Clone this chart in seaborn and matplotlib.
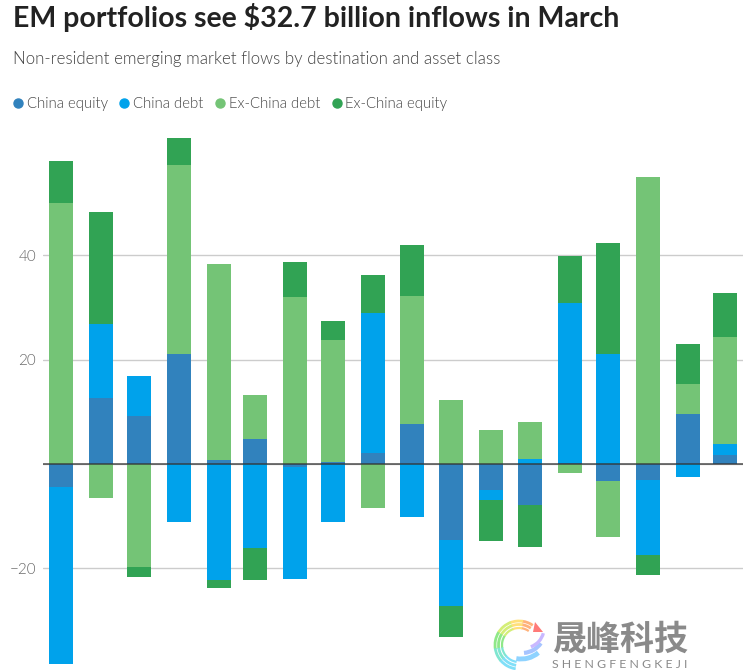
import numpy as np
import pandas as pd
import matplotlib
matplotlib.use('Agg')
import matplotlib.pyplot as plt
import matplotlib.dates as mdates
from matplotlib.lines import Line2D
from matplotlib.patches import Arc, Polygon
import seaborn as sns

months = pd.date_range('2022-10-01', '2024-03-01', freq='MS')
china_equity = [-4.35, 12.7, 9.2, 21.0, 0.8, 4.7, -0.5, 0.35, 2.1, 7.7, -14.5, -5.0, -7.9, 0.1, -3.3, -3.1, 9.6, 1.7]
china_debt = [-34.0, 14.1, 7.6, -11.2, -22.2, -16.0, -21.6, -11.2, 26.8, -10.2, -12.7, -1.9, 0.9, 30.7, 21.0, -14.4, -2.5, 2.1]
ex_china_debt = [50.0, -6.5, -19.8, 36.3, 37.5, 8.6, 32.0, 23.4, -8.5, 24.4, 12.25, 6.5, 7.1, -1.8, -10.6, 55.0, 5.7, 20.5]
ex_china_equity = [8.0, 21.5, -1.9, 5.2, -1.55, -6.3, 6.65, 3.6, 7.3, 9.8, -6.0, -7.9, -8.0, 9.1, 21.4, -3.8, 7.7, 8.5]

series = ['China equity', 'China debt', 'Ex-China debt', 'Ex-China equity']
values = [china_equity, china_debt, ex_china_debt, ex_china_equity]
colors = ['#3182bd', '#00a2eb', '#74c476', '#31a354']
y_ticks = [-20, 0, 20, 40]

sns.set_theme(style='white')
plt.rcParams['font.family'] = ['Lato', 'DejaVu Sans']

W, H = 743, 670
fig = plt.figure(figsize=(W / 100, H / 100), dpi=100)
ax = fig.add_axes([43 / W, 0, 1 - 43 / W, 1 - 130 / H])

days = mdates.date2num(months)
pos_base = np.zeros(len(days))
neg_base = np.zeros(len(days))
for vals, color in zip(values, colors):
    vals = np.array(vals)
    bottom = np.where(vals >= 0, pos_base, neg_base)
    sns.barplot(x=days, y=vals, native_scale=True, color=color, saturation=1,
                width=0.668, errorbar=None, bottom=bottom, linewidth=0, ax=ax, zorder=2)
    pos_base = pos_base + np.clip(vals, 0, None)
    neg_base = neg_base + np.clip(vals, None, 0)

# px scale: 5.22 px per unit, 1.285 px per day
ax.set_xlim(days[0] - 14, days[0] + 531)
ax.set_ylim(-206 / 5.22, 334 / 5.22)
ax.set_xticks([])
ax.set_yticks(y_ticks)
ax.set_yticklabels(['\u221220', '', '20', '40'], color='#666666', fontsize=11, fontweight=300)
ax.tick_params(axis='y', length=0, pad=5)
ax.set_xlabel('')
ax.set_ylabel('')
sns.despine(ax=ax, left=True, bottom=True, top=True, right=True)
ax.grid(axis='y', color='#cccccc', linewidth=1)
ax.set_axisbelow(True)
ax.axhline(0, color='#333333', alpha=0.8, linewidth=1.2, zorder=5)

fig.text(13 / W, 1 - 18 / H, r'EM portfolios see \$32.7 billion inflows in March',
         fontsize=20.5, fontweight='bold', color='#222222', va='center')
fig.text(13 / W, 1 - 59 / H, 'Non-resident emerging market flows by destination and asset class',
         fontsize=12.2, fontweight=300, color='#444444', va='center')

handles = [Line2D([], [], marker='o', linestyle='', color=c, markersize=6.5) for c in colors]
fig.legend(handles, series, ncol=4, frameon=False, loc='center left',
           bbox_to_anchor=(3 / W, 1 - 104 / H), prop={'size': 10.7, 'weight': 300}, labelcolor='#444444',
           handlelength=1, handletextpad=0.1, columnspacing=0.6, borderpad=0)

# watermark
overlay = fig.add_axes([0, 0, 1, 1], facecolor='none')
overlay.set_xlim(0, W)
overlay.set_ylim(H, 0)
overlay.axis('off')
ring = [(55, 82, '#ffb27a'), (80, 112, '#ffe07a'), (110, 150, '#d4ee78'),
        (148, 190, '#8fe888'), (188, 222, '#7fe6d0'), (220, 262, '#80dff8')]
for radius, lw in [(24, 2), (20.5, 2), (17, 1.6)]:
    for a1, a2, c in ring:
        overlay.add_patch(Arc((519, 645), radius * 2, radius * 2, theta1=-a2, theta2=-a1, color=c, linewidth=lw))
for center, radius, lw, a1, a2, c in [((521, 632), 27, 3.5, -100, -50, '#8fd3ff'),
                                      ((522, 630), 23, 3.0, -85, -35, '#a6c4ff'),
                                      ((524, 628), 20, 2.4, -70, -15, '#c9b8ff')]:
    overlay.add_patch(Arc(center, radius * 2, radius * 2, theta1=-a2, theta2=-a1, color=c, linewidth=lw))
overlay.add_patch(Polygon([(535, 622), (543, 632), (533, 632)], color='#ff7a78', linewidth=0))
overlay.text(553, 639, '\u665f\u5cf0\u79d1\u6280', fontsize=24.5, fontweight='bold', color='#8a8a8a',
             family=['Noto Sans CJK SC', 'DejaVu Sans'], va='center', ha='left')
overlay.text(552, 665, 'S H E N G F E N G K E J I', fontsize=8.9, color='#8a8a8a', va='center', ha='left')

fig.savefig('out.png', dpi=100)
